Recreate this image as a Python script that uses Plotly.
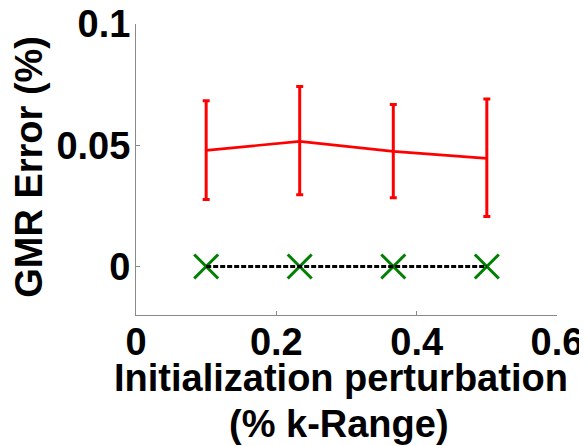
import plotly.graph_objects as go

x_vals = [0.1, 0.2333, 0.3667, 0.5]
gmr_err = [0.0479, 0.0516, 0.0475, 0.0446]
gmr_upper = [0.0683, 0.0742, 0.0668, 0.0691]
gmr_lower = [0.0276, 0.0296, 0.0284, 0.0206]
zero_err = [0.0, 0.0, 0.0, 0.0]

x_ticks = [0, 0.2, 0.4, 0.6]
x_ticklabels = ["0", "0.2", "0.4", "0.6"]
y_ticks = [0, 0.05, 0.1]
y_ticklabels = ["0", "0.05", "0.1"]

x_title_1 = "Initialization perturbation"
x_title_2 = "(% k-Range)"
y_title = "GMR Error (%)"

err_plus = [u - v for u, v in zip(gmr_upper, gmr_err)]
err_minus = [v - l for v, l in zip(gmr_err, gmr_lower)]

font_family = "Liberation Sans, Arial, sans-serif"
axis_gray = "#8a8a8a"

fig = go.Figure()
fig.add_trace(go.Scatter(
    x=x_vals, y=gmr_err, mode="lines",
    line=dict(color="#ff0000", width=2.7),
    error_y=dict(type="data", symmetric=False, array=err_plus, arrayminus=err_minus,
                 color="#ff0000", thickness=3, width=3.5),
    showlegend=False, hoverinfo="skip"))
fig.add_trace(go.Scatter(
    x=x_vals, y=zero_err, mode="markers",
    marker=dict(symbol="x-thin", size=24, line=dict(color="#008000", width=3)),
    showlegend=False, hoverinfo="skip"))
fig.add_trace(go.Scatter(
    x=x_vals, y=zero_err, mode="lines",
    line=dict(color="#000000", width=3, dash="5px,2px"),
    showlegend=False, hoverinfo="skip"))

txt_font = dict(family=font_family, size=38, color="#000000", weight="bold")

fig.update_layout(
    width=579, height=438,
    margin=dict(l=128, r=30, t=16, b=131),
    paper_bgcolor="#ffffff", plot_bgcolor="#ffffff",
    xaxis=dict(range=[0, 0.6], tickvals=x_ticks, ticktext=x_ticklabels, automargin=False,
               showgrid=False, zeroline=False, showline=True, linecolor=axis_gray, linewidth=1,
               ticks="inside", ticklen=4, tickcolor=axis_gray, tickfont=txt_font,
               ticklabelstandoff=-7, ticklabeloverflow="allow"),
    yaxis=dict(range=[-0.02, 0.1], tickvals=y_ticks, ticktext=y_ticklabels, automargin=False,
               showgrid=False, zeroline=False, showline=True, linecolor=axis_gray, linewidth=1,
               ticks="inside", ticklen=4, tickcolor=axis_gray, tickfont=txt_font,
               ticklabelstandoff=-3, ticklabeloverflow="allow"),
    annotations=[
        dict(text=x_title_1, xref="paper", yref="paper", x=0.488, y=-0.218,
             xanchor="center", yanchor="middle", showarrow=False, font=txt_font),
        dict(text=x_title_2, xref="paper", yref="paper", x=0.483, y=-0.373,
             xanchor="center", yanchor="middle", showarrow=False, font=txt_font),
        dict(text=y_title, xref="paper", yref="paper", x=-0.256, y=0.510, textangle=-90,
             xanchor="center", yanchor="middle", showarrow=False, font=txt_font),
    ],
)

fig.write_html("out.html")
